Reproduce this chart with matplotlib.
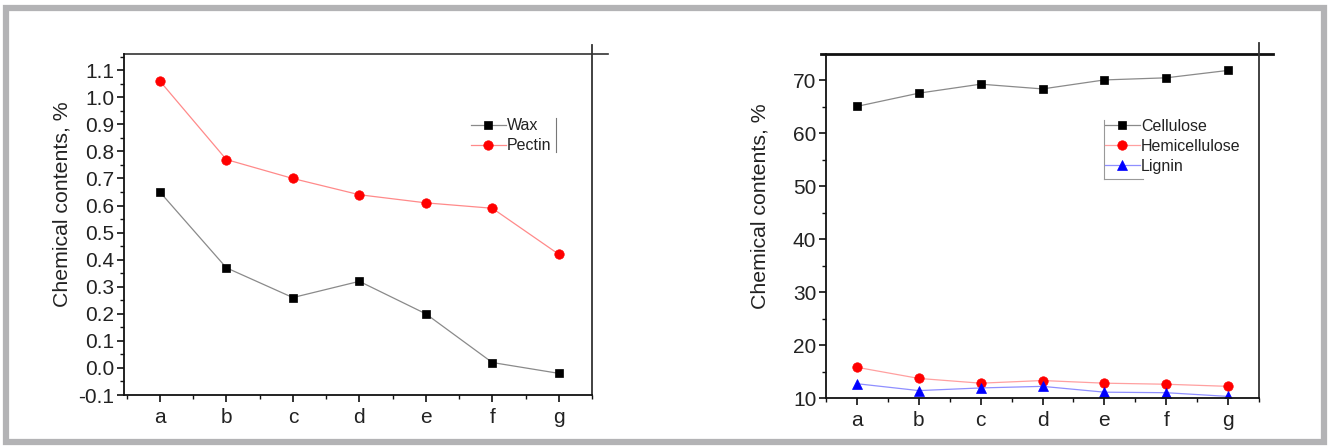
import matplotlib
matplotlib.use("Agg")
import matplotlib.pyplot as plt
from matplotlib.ticker import MultipleLocator
from matplotlib.lines import Line2D
from matplotlib.patches import Rectangle

plt.rcParams['font.family'] = ['Liberation Sans', 'DejaVu Sans']

categories = ['a', 'b', 'c', 'd', 'e', 'f', 'g']
wax = [0.65, 0.37, 0.26, 0.32, 0.20, 0.02, -0.02]
pectin = [1.06, 0.77, 0.70, 0.64, 0.61, 0.59, 0.42]
cellulose = [65.1, 67.6, 69.3, 68.4, 70.1, 70.5, 71.9]
hemicellulose = [15.8, 13.7, 12.8, 13.3, 12.8, 12.6, 12.2]
lignin = [12.7, 11.4, 11.9, 12.2, 11.1, 11.0, 10.3]
wax_ticks = [-0.1, 0.0, 0.1, 0.2, 0.3, 0.4, 0.5, 0.6, 0.7, 0.8, 0.9, 1.0, 1.1]

TXT = '#222222'
W, H = 1328, 448
fig = plt.figure(figsize=(W / 100, H / 100), dpi=100)

# outer gray frame
fig.patches.append(Rectangle((6 / W, 1 - 442 / H), (1324 - 6) / W, (442 - 8) / H,
                             transform=fig.transFigure, fill=False,
                             edgecolor='#b3b3b5', linewidth=4.5))


def fx(px):
    return px / W


def fy(py):
    return 1 - py / H


ax1 = fig.add_axes([fx(124), fy(395), (592 - 124) / W, (395 - 54) / H])
ax2 = fig.add_axes([fx(826), fy(398), (1259 - 826) / W, (398 - 54) / H])

x = list(range(len(categories)))
mk = dict(mew=0.5)

ax1.plot(x, wax, color='#8a8a8a', lw=0.9, marker='s', ms=6, mfc='black', mec='black', label='Wax', **mk)
ax1.plot(x, pectin, color='#ff8a8a', lw=0.9, marker='o', ms=6.8, mfc='red', mec='red', label='Pectin', **mk)
ax1.set_ylim(-0.1, 1.16)
ax1.set_xlim(-0.54, 6.48)
ax1.set_yticks(wax_ticks)
ax1.set_yticklabels(['%.1f' % v for v in wax_ticks])
ax1.yaxis.set_minor_locator(MultipleLocator(0.05))

ax2.plot(x, cellulose, color='#8a8a8a', lw=0.9, marker='s', ms=6, mfc='black', mec='black', label='Cellulose', **mk)
ax2.plot(x, hemicellulose, color='#ffa0a0', lw=0.9, marker='o', ms=6.8, mfc='red', mec='red', label='Hemicellulose', **mk)
ax2.plot(x, lignin, color='#8f8fff', lw=0.9, marker='^', ms=7, mfc='blue', mec='blue', label='Lignin', **mk)
ax2.set_ylim(10, 75)
ax2.set_xlim(-0.48, 6.5)
ax2.yaxis.set_major_locator(MultipleLocator(10))
ax2.yaxis.set_minor_locator(MultipleLocator(5))

for ax in (ax1, ax2):
    ax.set_xticks(x)
    ax.set_xticklabels(categories)
    ax.set_xticks([i + 0.5 for i in range(-1, 7)], minor=True)
    ax.tick_params(axis='both', which='major', direction='out', length=5, width=1.2,
                   labelsize=15, colors='#111111', labelcolor=TXT, pad=2)
    ax.tick_params(axis='both', which='minor', direction='out', length=3, width=1.0, colors='#111111')
    ax.tick_params(axis='x', which='major', pad=4)
    ax.spines['top'].set_visible(False)
    ax.spines['right'].set_visible(False)
    for s in ('left', 'bottom'):
        ax.spines[s].set_linewidth(1.3)
        ax.spines[s].set_color('#111111')
    ax.set_ylabel('Chemical contents, %', fontsize=15.3, color=TXT)
    ax.patch.set_alpha(0)

ax1.yaxis.set_label_coords(-0.112, 0.559)
ax2.yaxis.set_label_coords(-0.13, 0.557)

# top lines and right spines extending past the box
ax1.add_line(Line2D([0, 1 + 16 / 468], [1, 1], transform=ax1.transAxes,
                    color='#333333', lw=1.2, clip_on=False))
ax1.add_line(Line2D([1, 1], [0, 1 + 9 / 341], transform=ax1.transAxes,
                    color='#333333', lw=1.3, clip_on=False))
ax2.add_line(Line2D([-5 / 433, 1 + 14 / 433], [1, 1], transform=ax2.transAxes,
                    color='#111111', lw=2.0, clip_on=False))
ax2.add_line(Line2D([1, 1], [0, 1 + 11 / 344], transform=ax2.transAxes,
                    color='#333333', lw=1.3, clip_on=False))

leg_kw = dict(frameon=False, loc='upper left', borderpad=0, borderaxespad=0,
              handlelength=2.2, handletextpad=0.05, labelspacing=0.32,
              fontsize=11.5, labelcolor=TXT)
ax1.legend(bbox_to_anchor=(0.741, 0.812), **leg_kw)
ax2.legend(bbox_to_anchor=(0.644, 0.812), **leg_kw)

# partial legend frame lines
ax1.add_line(Line2D([0.923, 0.923], [0.713, 0.812], transform=ax1.transAxes,
                    color='#777777', lw=0.8, clip_on=False))
ax2.add_line(Line2D([0.642, 0.642], [0.637, 0.808], transform=ax2.transAxes,
                    color='#999999', lw=0.8, clip_on=False))
ax2.add_line(Line2D([0.642, 0.732], [0.637, 0.637], transform=ax2.transAxes,
                    color='#999999', lw=0.8, clip_on=False))

fig.savefig('out.png', dpi=100)
